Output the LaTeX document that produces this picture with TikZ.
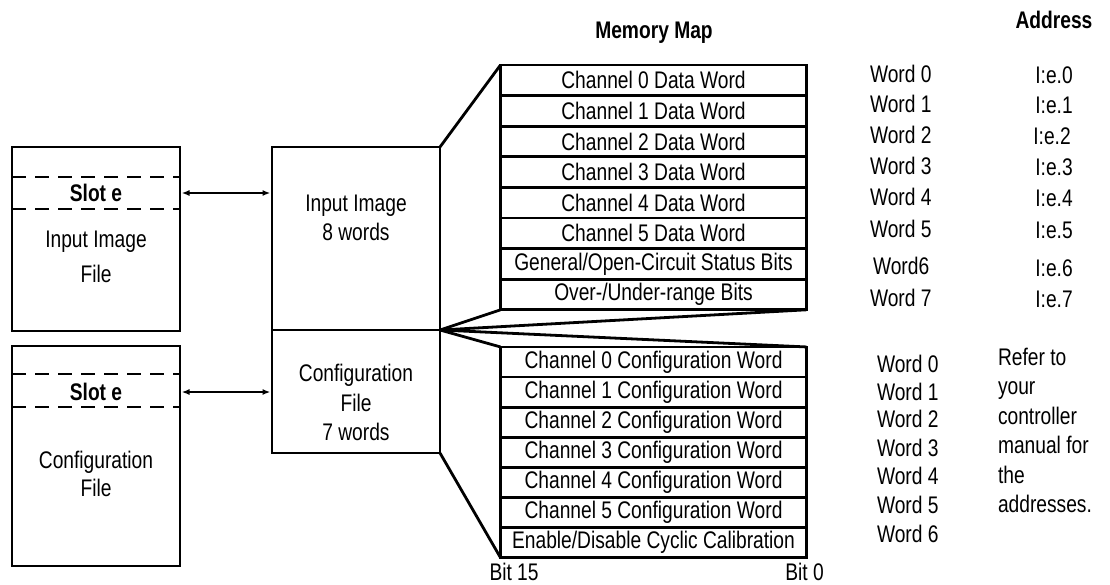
\documentclass[tikz,border=0pt]{standalone}
\usepackage{fontspec}
\setmainfont{Liberation Sans}[FakeStretch=0.8]
\usetikzlibrary{arrows.meta, positioning}

\begin{document}
\begin{tikzpicture}[
    x=1pt, y=-1pt,
    >={Latex[length=8pt, width=6pt]},
    every node/.style={font=\fontsize{24}{28}\selectfont, inner sep=0pt, outer sep=0pt},
    filebox/.style={rectangle, draw, line width=2.8pt, minimum width=168pt},
    imagebox/.style={rectangle, draw, line width=2.8pt, minimum width=168pt},
    maprow/.style={rectangle, draw, line width=2.8pt, minimum width=306pt},
    datarow/.style={maprow, minimum height=30.6pt},
    cfgrow/.style={maprow, minimum height=30.1pt},
    slotline/.style={line width=2.8pt, dash pattern=on 14pt off 9pt},
    link/.style={<->, line width=1.6pt, shorten <=1.5pt, shorten >=1.5pt},
    fan/.style={line width=2.8pt},
    header/.style={font=\bfseries\fontsize{24}{28}\selectfont},
    wordlabel/.style={anchor=west},
]
\useasboundingbox (0,0) rectangle (1110,584);

% --- Processor files (left) ---
\node[filebox, minimum height=184pt] (imgfile) at (96,239) {};
\node[filebox, minimum height=220pt] (cfgsrc) at (96,456) {};
\draw[slotline] ([yshift=-30pt]imgfile.north west) -- ([yshift=-30pt]imgfile.north east);
\draw[slotline] ([yshift=-62pt]imgfile.north west) -- ([yshift=-62pt]imgfile.north east);
\draw[slotline] ([yshift=-28pt]cfgsrc.north west) -- ([yshift=-28pt]cfgsrc.north east);
\draw[slotline] ([yshift=-61pt]cfgsrc.north west) -- ([yshift=-61pt]cfgsrc.north east);
\node[header] (imgslot) at ([yshift=-46pt]imgfile.north) {Slot e};
\node[header] (cfgslot) at ([yshift=-46pt]cfgsrc.north) {Slot e};
\node[align=center] (imgfiletxt) at ([yshift=-110pt]imgfile.north) {Input Image\\[7pt]File};
\node[align=center] (cfgsrctxt) at ([yshift=-128pt]cfgsrc.north) {Configuration\\[0pt]File};

% --- Module image (middle) ---
\node[imagebox, minimum height=183pt] (imgimage) at (356,238.5) {};
\node[imagebox, minimum height=123pt, below=0pt of imgimage] (cfgfile) {};
\node[align=center] (imgimagetxt) at ([yshift=-70.5pt]imgimage.north) {Input Image\\[1pt]8 words};
\node[align=center] (cfgfiletxt) at ([yshift=-72.5pt]cfgfile.north) {Configuration\\[1.5pt]File\\[1.5pt]7 words};

% --- Arrows: slots to module image ---
\draw[link] (imgfile.east |- imgslot) -- (imgimage.west |- imgslot);
\draw[link] (cfgsrc.east |- cfgslot) -- (cfgfile.west |- cfgslot);

% --- Memory map: input data words ---
\node[header] (maptitle) at (654,33) {Memory Map};
\node[datarow] (dw0) at (653.5,80.3) {Channel 0 Data Word};
\node[datarow, below=0pt of dw0] (dw1) {Channel 1 Data Word};
\node[datarow, below=0pt of dw1] (dw2) {Channel 2 Data Word};
\node[datarow, below=0pt of dw2] (dw3) {Channel 3 Data Word};
\node[datarow, below=0pt of dw3] (dw4) {Channel 4 Data Word};
\node[datarow, below=0pt of dw4] (dw5) {Channel 5 Data Word};
\node[datarow, below=0pt of dw5] (dw6) {General/Open-Circuit Status Bits};
\node[datarow, below=0pt of dw6] (dw7) {Over-/Under-range Bits};

% --- Memory map: configuration words ---
\node[cfgrow] (cw0) at (653.5,362) {Channel 0 Configuration Word};
\node[cfgrow, below=0pt of cw0] (cw1) {Channel 1 Configuration Word};
\node[cfgrow, below=0pt of cw1] (cw2) {Channel 2 Configuration Word};
\node[cfgrow, below=0pt of cw2] (cw3) {Channel 3 Configuration Word};
\node[cfgrow, below=0pt of cw3] (cw4) {Channel 4 Configuration Word};
\node[cfgrow, below=0pt of cw4] (cw5) {Channel 5 Configuration Word};
\node[cfgrow, below=0pt of cw5] (cw6) {Enable/Disable Cyclic Calibration};
\node[anchor=north west] (bithi) at ([xshift=-11pt, yshift=-5pt]cw6.south west) {Bit 15};
\node[anchor=north] (bitlo) at ([xshift=-2pt, yshift=-5pt]cw6.south east) {Bit 0};

% --- Fan lines ---
\draw[fan] (imgimage.north east) -- (dw0.north west);
\draw[fan] (imgimage.south east) -- (dw7.south west);
\draw[fan] (imgimage.south east) -- (dw7.south east);
\draw[fan] (cfgfile.north east) -- (cw0.north east);
\draw[fan] (cfgfile.north east) -- (cw0.north west);
\draw[fan] (cfgfile.south east) -- (cw6.south west);

% --- Word numbers and addresses ---
\node[header] (addrtitle) at (1054,20) {Address};
\node[wordlabel] (dword0) at (870,74) {Word 0};
\node[wordlabel] (dword1) at (870,104) {Word 1};
\node[wordlabel] (dword2) at (870,135) {Word 2};
\node[wordlabel] (dword3) at (870,166) {Word 3};
\node[wordlabel] (dword4) at (870,197) {Word 4};
\node[wordlabel] (dword5) at (870,229) {Word 5};
\node[wordlabel] (dword6) at (873,266) {Word6};
\node[wordlabel] (dword7) at (870,298) {Word 7};
\node (daddr0) at (1054,75) {I:e.0};
\node (daddr1) at (1054,105) {I:e.1};
\node (daddr2) at (1052,136) {I:e.2};
\node (daddr3) at (1054,167) {I:e.3};
\node (daddr4) at (1054,198) {I:e.4};
\node (daddr5) at (1054,230) {I:e.5};
\node (daddr6) at (1054,268) {I:e.6};
\node (daddr7) at (1054,299) {I:e.7};

\node[wordlabel] (cword0) at (877,364) {Word 0};
\node[wordlabel] (cword1) at (877,392) {Word 1};
\node[wordlabel] (cword2) at (877,419) {Word 2};
\node[wordlabel] (cword3) at (877,448) {Word 3};
\node[wordlabel] (cword4) at (877,476) {Word 4};
\node[wordlabel] (cword5) at (877,505) {Word 5};
\node[wordlabel] (cword6) at (877,534) {Word 6};
\node[anchor=north west, align=left, font=\fontsize{24}{29.5}\selectfont] (refnote) at (998,348)
    {Refer to\\your\\controller\\manual for\\the\\addresses.};

\end{tikzpicture}
\end{document}
